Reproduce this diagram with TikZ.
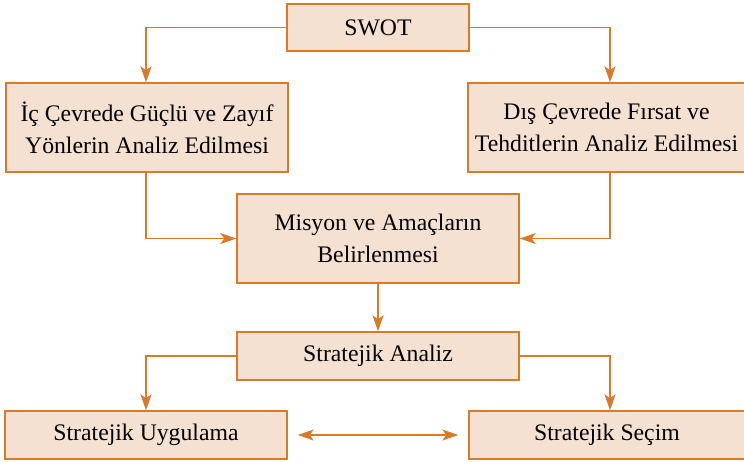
\documentclass[tikz,border=0pt]{standalone}
\usepackage{fontspec}
\setmainfont{Liberation Serif}
\usetikzlibrary{arrows.meta}

\definecolor{boxline}{RGB}{214,122,44}
\definecolor{boxfill}{RGB}{245,225,209}

\tikzset{
  tipo/.tip={Stealth[length=0.32cm, width=0.22cm, inset=0.08cm]},
  box/.style={draw=boxline, fill=boxfill, line width=0.85pt, inner sep=0pt,
    align=center, font=\rmfamily\fontsize{13.5}{18.1}\selectfont},
  link/.style={draw=boxline, line width=0.8pt, -tipo},
  twoway/.style={draw=boxline, line width=0.8pt, tipo-tipo},
}

\begin{document}
\begin{tikzpicture}[x=0.02cm, y=-0.02cm]
  \useasboundingbox (0, 0) rectangle (744, 461);

  % columns of the side arrows
  \coordinate (lcol) at (146, 0);
  \coordinate (rcol) at (610, 0);

  % SWOT
  \node [box, minimum width=3.64cm, minimum height=0.94cm] (swot)
        at (378, 27.5) {SWOT};

  % Analyses
  \node [box, minimum width=5.64cm, minimum height=1.78cm] (ic)
        at (147, 127.5) {İç Çevrede Güçlü ve Zayıf\\Yönlerin Analiz Edilmesi};
  \node [box, minimum width=5.54cm, minimum height=1.78cm] (dis)
        at (606.5, 127.5) {Dış Çevrede Fırsat ve\\Tehditlerin Analiz Edilmesi};

  % Mission
  \node [box, minimum width=5.64cm, minimum height=1.78cm] (misyon)
        at (378, 238.5) {Misyon ve Amaçların\\Belirlenmesi};
  \node [box, minimum width=5.64cm, minimum height=0.96cm] (analiz)
        at (378, 356) {Stratejik Analiz};

  % Bottom row
  \node [box, minimum width=5.64cm, minimum height=0.96cm] (uygulama)
        at (146, 435) {Stratejik Uygulama};
  \node [box, minimum width=5.52cm, minimum height=0.96cm] (secim)
        at (607, 435) {Stratejik Seçim};

  % Edges
  \draw [link] (swot.west) -| (lcol |- ic.north);
  \draw [link] (swot.east) -| (rcol |- dis.north);
  \draw [link] (lcol |- ic.south) |- (misyon.west);
  \draw [link] (rcol |- dis.south) |- (misyon.east);
  \draw [link] (misyon.south) -- (analiz.north);
  \draw [link] (analiz.west) -| (lcol |- uygulama.north);
  \draw [link] (analiz.east) -| (rcol |- secim.north);
  \draw [twoway, shorten <=0.2cm, shorten >=0.2cm]
        (uygulama.east) -- (secim.west);
\end{tikzpicture}
\end{document}
